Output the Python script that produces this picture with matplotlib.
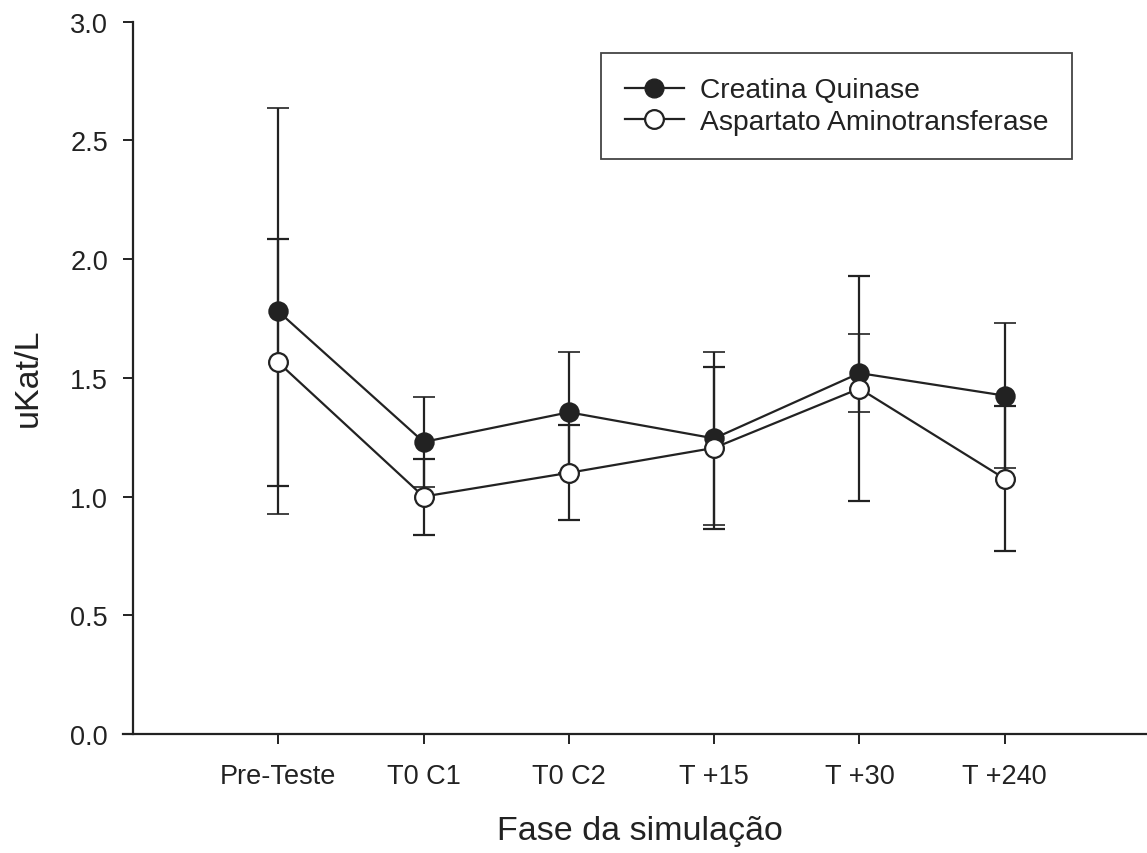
import numpy as np
import matplotlib
matplotlib.use("Agg")
import matplotlib.pyplot as plt
from matplotlib.lines import Line2D

plt.rcParams["font.family"] = ["Liberation Sans", "DejaVu Sans"]

fases = ["Pre-Teste", "T0 C1", "T0 C2", "T +15", "T +30", "T +240"]

# creatina quinase (media e desvio)
ck_media = [1.78, 1.23, 1.355, 1.245, 1.52, 1.425]
ck_dp = [0.855, 0.19, 0.255, 0.365, 0.165, 0.305]

# aspartato aminotransferase (media e desvio)
ast_media = [1.565, 1.00, 1.10, 1.205, 1.455, 1.075]
ast_dp = [0.52, 0.16, 0.20, 0.34, 0.475, 0.305]

cor = "#222222"
W, H = 1147, 854

fig = plt.figure(figsize=(W / 100, H / 100), dpi=100)
ax = fig.add_axes([122.8 / W, (H - 735) / H, (W - 122.8) / W, (735 - 22.7) / H])

x = np.arange(1, len(fases) + 1)

ax.errorbar(x, ck_media, yerr=ck_dp, color=cor, lw=1.6, marker="o", ms=13.5,
            mfc=cor, mec=cor, mew=1.2, capsize=8, capthick=1.6, elinewidth=1.6,
            zorder=2)
ax.errorbar(x, ast_media, yerr=ast_dp, color=cor, lw=1.6, marker="o", ms=13.5,
            mfc="white", mec=cor, mew=1.6, capsize=8, capthick=1.6, elinewidth=1.6,
            zorder=3)

ax.set_xlim(-0.07, (W - 133) / 145.3)
ax.set_ylim(0, 3.0)
ax.set_xticks(x)
ax.set_xticklabels(fases)
ax.set_yticks(np.arange(0, 3.01, 0.5))
ax.set_yticklabels(["%.1f" % v for v in np.arange(0, 3.01, 0.5)])

for s in ["top", "right"]:
    ax.spines[s].set_visible(False)
ax.spines["left"].set_position(("data", 0))
ax.spines["left"].set_linewidth(1.6)
ax.spines["bottom"].set_linewidth(1.6)
ax.spines["left"].set_color(cor)
ax.spines["bottom"].set_color(cor)

ax.tick_params(axis="both", direction="out", length=7, width=1.4, color=cor,
               labelsize=19.5, labelcolor=cor)
ax.tick_params(axis="y", pad=11)
ax.tick_params(axis="x", pad=14)

fig.text(28 / W, 1 - 378 / H, "uKat/L", rotation=90, ha="center", va="center",
         fontsize=24.5, color=cor)
fig.text(640 / W, 1 - 832 / H, "Fase da simulação", ha="center", va="center",
         fontsize=24.5, color=cor)

handles = [
    Line2D([], [], color=cor, lw=1.6, marker="o", ms=13.5, mfc=cor, mec=cor),
    Line2D([], [], color=cor, lw=1.6, marker="o", ms=13.5, mfc="white", mec=cor, mew=1.6),
]
leg = ax.legend(handles, ["Creatina Quinase", "Aspartato Aminotransferase"],
                loc="lower right",
                bbox_to_anchor=((1072 - 122.8) / (W - 122.8), (735 - 160) / 712.3),
                borderaxespad=0, fontsize=20.3, frameon=True, fancybox=False,
                edgecolor="#444444", framealpha=1, handlelength=2.1,
                handletextpad=0.55, labelspacing=0.2, borderpad=0.85)
leg.get_frame().set_linewidth(1.3)
for t in leg.get_texts():
    t.set_color(cor)

fig.savefig("out.png", dpi=100)
